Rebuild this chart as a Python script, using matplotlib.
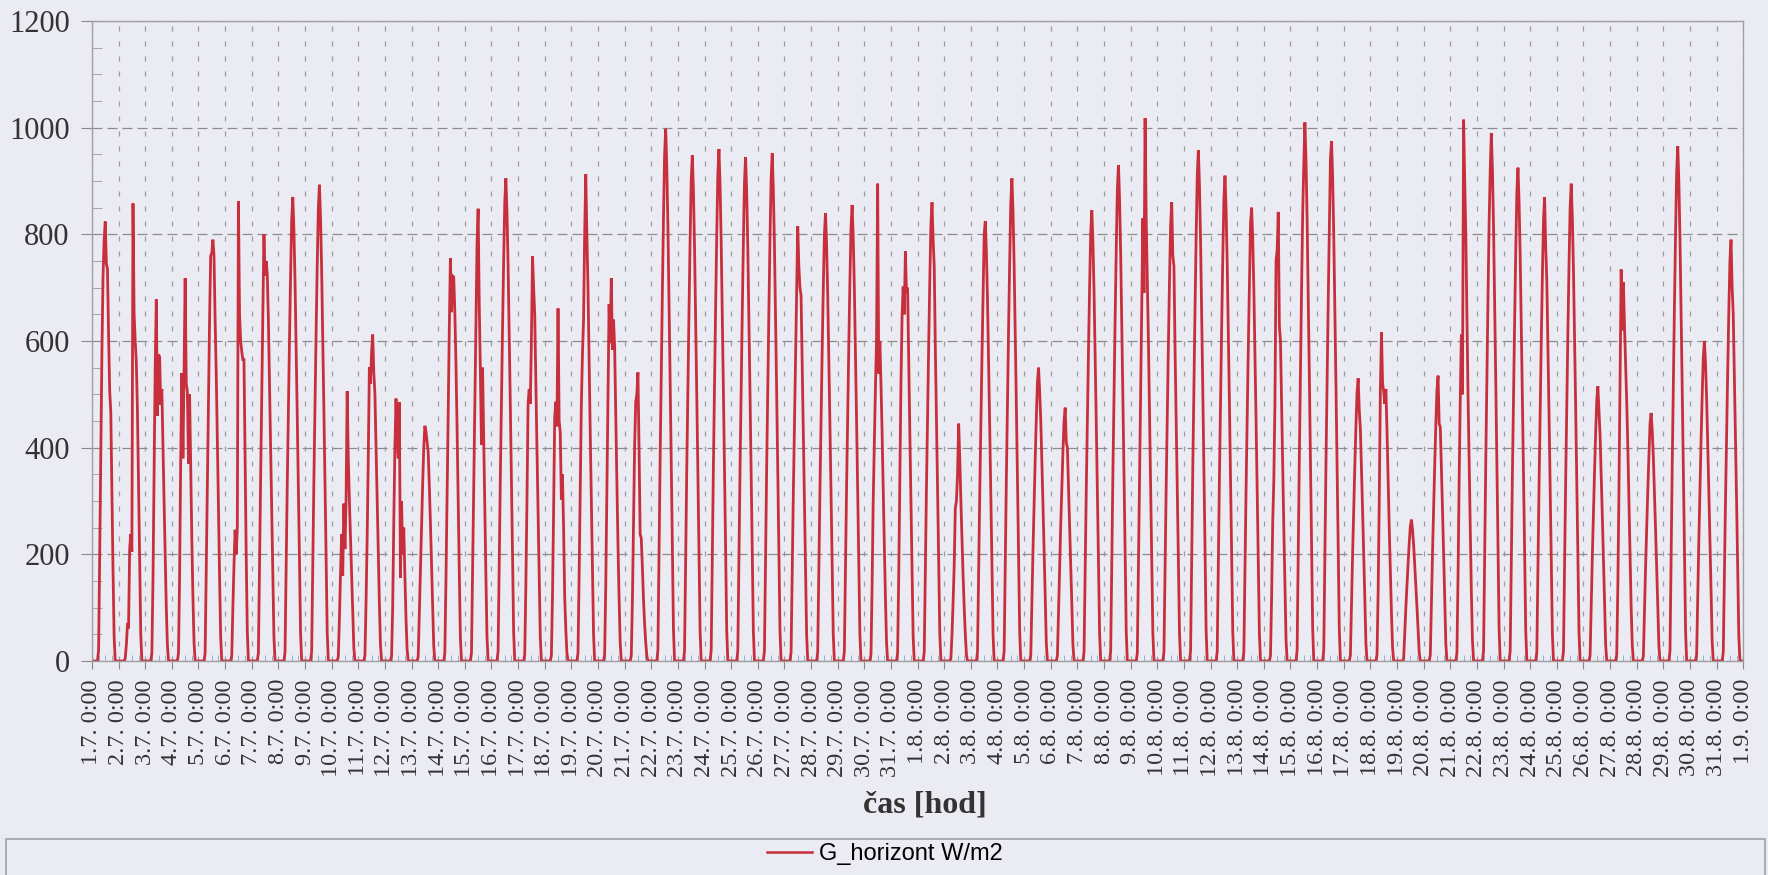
import numpy as np
import matplotlib
matplotlib.use("Agg")
import matplotlib.pyplot as plt
from matplotlib.patches import Rectangle
from matplotlib.lines import Line2D
import pandas as pd

# hourly G_horizont [W/m2], each row = one day, hours 5:00 .. 21:00 (rest of the day is 0)
first_hour = 5
july = [
    [0, 20, 200, 400, 580, 720, 790, 824, 745, 735, 610, 506, 466, 320, 170, 45, 0],
    [0, 5, 30, 67, 65, 210, 238, 205, 858, 650, 600, 560, 470, 330, 180, 50, 0],
    [0, 15, 150, 350, 550, 678, 460, 575, 570, 480, 510, 400, 300, 200, 100, 30, 0],
    [0, 15, 160, 380, 540, 380, 540, 718, 520, 505, 370, 500, 360, 230, 120, 35, 0],
    [0, 15, 170, 330, 490, 640, 760, 765, 790, 760, 640, 540, 420, 290, 160, 45, 0],
    [0, 10, 100, 180, 246, 200, 250, 862, 650, 600, 580, 565, 565, 380, 200, 55, 0],
    [0, 15, 170, 340, 500, 650, 800, 722, 750, 725, 640, 520, 400, 280, 160, 45, 0],
    [0, 17, 174, 331, 470, 600, 722, 827, 870, 809, 713, 592, 461, 331, 191, 52, 0],
    [0, 18, 179, 339, 482, 616, 741, 848, 893, 830, 732, 607, 473, 339, 196, 54, 0],
    [0, 8, 80, 164, 238, 160, 295, 210, 300, 506, 380, 300, 230, 160, 90, 25, 0],
    [0, 10, 110, 230, 380, 551, 520, 580, 612, 540, 500, 400, 300, 200, 110, 30, 0],
    [0, 10, 100, 260, 400, 492, 420, 380, 485, 156, 300, 200, 250, 160, 80, 22, 0],
    [0, 8, 90, 170, 250, 330, 400, 441, 430, 410, 392, 330, 260, 180, 100, 28, 0],
    [0, 15, 150, 300, 460, 620, 755, 654, 722, 720, 655, 560, 440, 300, 170, 45, 0],
    [0, 15, 170, 330, 480, 650, 780, 848, 669, 547, 405, 550, 420, 290, 160, 45, 0],
    [0, 18, 181, 344, 489, 624, 751, 860, 905, 842, 742, 615, 480, 344, 199, 54, 0],
    [0, 12, 140, 300, 482, 510, 482, 600, 759, 700, 650, 520, 400, 280, 150, 45, 0],
    [0, 10, 120, 280, 457, 486, 440, 661, 450, 429, 303, 350, 250, 120, 60, 15, 0],
    [0, 15, 160, 320, 480, 575, 640, 800, 913, 800, 700, 560, 430, 300, 170, 50, 0],
    [0, 12, 140, 320, 500, 669, 596, 718, 584, 640, 590, 460, 340, 220, 120, 35, 0],
    [0, 10, 110, 260, 400, 486, 500, 541, 400, 238, 230, 177, 116, 70, 35, 10, 0],
    [0, 20, 200, 379, 539, 689, 828, 948, 998, 928, 818, 679, 529, 379, 220, 60, 0],
    [0, 19, 190, 360, 512, 654, 787, 901, 948, 882, 777, 645, 502, 360, 209, 57, 0],
    [0, 19, 192, 365, 518, 662, 797, 912, 960, 893, 787, 653, 509, 365, 211, 58, 0],
    [0, 19, 189, 359, 510, 652, 784, 898, 945, 879, 775, 643, 501, 359, 208, 57, 0],
    [0, 19, 190, 362, 514, 657, 790, 904, 952, 885, 781, 647, 505, 362, 209, 57, 0],
    [0, 16, 165, 310, 440, 570, 690, 815, 740, 700, 685, 560, 435, 310, 180, 50, 0],
    [0, 17, 168, 319, 454, 580, 697, 798, 840, 781, 689, 571, 445, 319, 185, 50, 0],
    [0, 17, 171, 325, 462, 590, 710, 812, 855, 795, 701, 581, 453, 325, 188, 51, 0],
    [0, 12, 140, 300, 405, 510, 600, 895, 539, 600, 520, 430, 320, 220, 120, 35, 0],
    [0, 15, 160, 340, 520, 645, 702, 650, 768, 690, 700, 560, 430, 300, 170, 45, 0],
]
august = [
    [0, 17, 172, 327, 464, 593, 714, 817, 860, 790, 740, 585, 456, 327, 189, 52, 0],
    [0, 5, 50, 110, 180, 287, 300, 350, 445, 380, 300, 230, 160, 100, 50, 12, 0],
    [0, 17, 165, 314, 446, 569, 685, 800, 825, 767, 677, 561, 437, 314, 182, 50, 0],
    [0, 18, 181, 344, 489, 624, 751, 860, 905, 842, 742, 615, 480, 344, 199, 54, 0],
    [0, 11, 110, 209, 297, 380, 457, 523, 550, 505, 451, 374, 292, 209, 121, 33, 0],
    [0, 10, 95, 181, 257, 328, 394, 451, 475, 410, 400, 323, 252, 181, 105, 29, 0],
    [0, 17, 169, 321, 456, 583, 701, 803, 845, 786, 693, 575, 448, 321, 186, 51, 0],
    [0, 19, 186, 353, 502, 642, 772, 884, 930, 865, 763, 632, 493, 353, 205, 56, 0],
    [0, 15, 180, 360, 520, 690, 830, 690, 1018, 830, 720, 600, 460, 330, 190, 52, 0],
    [0, 17, 172, 327, 464, 593, 714, 817, 860, 760, 740, 585, 456, 327, 189, 52, 0],
    [0, 19, 192, 364, 517, 661, 795, 910, 958, 891, 786, 651, 508, 364, 211, 57, 0],
    [0, 18, 182, 346, 491, 628, 755, 865, 910, 846, 746, 619, 482, 346, 200, 55, 0],
    [0, 17, 170, 323, 459, 587, 706, 820, 850, 791, 697, 578, 451, 323, 187, 51, 0],
    [0, 10, 120, 260, 339, 482, 751, 770, 842, 628, 600, 480, 370, 250, 140, 40, 0],
    [0, 20, 202, 384, 545, 697, 838, 930, 1010, 939, 828, 687, 535, 384, 222, 61, 0],
    [0, 20, 195, 371, 527, 673, 809, 940, 975, 907, 800, 663, 517, 371, 215, 59, 0],
    [0, 11, 106, 201, 286, 366, 440, 504, 530, 470, 435, 360, 281, 201, 117, 32, 0],
    [0, 12, 130, 300, 506, 616, 520, 506, 482, 510, 430, 340, 250, 170, 90, 25, 0],
    [0, 5, 53, 101, 143, 183, 220, 252, 265, 246, 217, 180, 140, 101, 58, 16, 0],
    [0, 11, 107, 203, 289, 369, 444, 508, 535, 445, 439, 364, 284, 203, 118, 32, 0],
    [0, 15, 160, 340, 490, 612, 500, 1015, 900, 800, 650, 500, 370, 250, 130, 38, 0],
    [0, 20, 198, 376, 535, 683, 822, 920, 990, 921, 812, 673, 525, 376, 218, 59, 0],
    [0, 19, 185, 352, 500, 638, 768, 879, 925, 860, 759, 629, 490, 352, 204, 56, 0],
    [0, 17, 174, 331, 470, 600, 722, 827, 870, 775, 713, 592, 461, 331, 191, 52, 0],
    [0, 18, 179, 340, 483, 618, 743, 850, 895, 832, 734, 609, 474, 340, 197, 54, 0],
    [0, 10, 103, 196, 278, 355, 427, 489, 515, 470, 422, 350, 273, 196, 113, 31, 0],
    [0, 12, 140, 320, 530, 734, 620, 710, 628, 560, 486, 400, 300, 200, 100, 30, 0],
    [0, 9, 93, 177, 251, 321, 386, 445, 465, 432, 381, 316, 246, 177, 102, 28, 0],
    [0, 19, 193, 367, 521, 666, 801, 917, 965, 897, 791, 656, 511, 367, 212, 58, 0],
    [0, 12, 120, 228, 324, 414, 498, 570, 600, 558, 492, 408, 318, 228, 132, 36, 0],
    [0, 16, 158, 300, 427, 545, 656, 751, 790, 700, 650, 537, 419, 300, 174, 47, 0],
]

days = july + august
n_days = len(days)
dates = pd.date_range("2000-07-01", periods=n_days + 1, freq="D")
tick_labels = [f"{d.day}.{d.month}. 0:00" for d in dates]

# build the hourly series
hours = np.arange(n_days * 24 + 1)
g_horizont = np.zeros(len(hours))
for i, row in enumerate(days):
    start = i * 24 + first_hour
    g_horizont[start:start + len(row)] = row

bg = "#ebebf4"
fig = plt.figure(figsize=(17.68, 8.75), dpi=100, facecolor=bg)
ax = fig.add_axes([0.052, 0.2446, 0.934, 0.7314], facecolor=bg)

line_color = "#c62f3b"
ax.plot(hours, g_horizont, color=line_color, lw=2.0, solid_joinstyle="miter")

ax.set_xlim(0, n_days * 24)
ax.set_ylim(0, 1200)
ax.set_yticks(np.arange(0, 1201, 200))
ax.set_yticks(np.arange(0, 1201, 50), minor=True)
ax.set_xticks(np.arange(0, n_days * 24 + 1, 24))
ax.set_xticks(np.arange(0, n_days * 24 + 1, 6), minor=True)
ax.set_xticklabels(tick_labels, rotation=90, fontsize=17.5,
                   family="Liberation Serif", color="#333333")
for lbl in ax.get_yticklabels():
    lbl.set_family("Liberation Serif")
    lbl.set_fontsize(22)
    lbl.set_color("#333333")

ax.tick_params(axis="y", which="major", direction="out", length=8, color="#888888", pad=8)
ax.tick_params(axis="y", which="minor", direction="in", length=7, color="#999999")
ax.tick_params(axis="x", which="major", direction="out", length=6, color="#888888", pad=7)
ax.tick_params(axis="x", which="minor", direction="in", length=4, color="#8aa6c0")

ax.grid(axis="y", which="major", color="#8c8c8c", lw=0.9, linestyle=(0, (8, 4)))
ax.grid(axis="x", which="major", color="#9c9c9c", lw=0.9, linestyle=(0, (4, 8)))
ax.set_axisbelow(True)
for sp in ax.spines.values():
    sp.set_color("#a0a0a0")
    sp.set_linewidth(1)

fig.text(0.523, 0.080, "čas [hod]", ha="center", va="center", fontsize=23,
         fontweight="bold", family="Liberation Serif", color="#333333")

# legend box at the bottom
fig.patches.append(Rectangle((0.0034, -0.02), 0.9949, 0.0611, transform=fig.transFigure,
                             facecolor="none", edgecolor="#a0a0a8", lw=1.2))
handle = Line2D([], [], color=line_color, lw=1.8)
fig.legend([handle], ["G_horizont W/m2"], loc="center", bbox_to_anchor=(0.5006, 0.024),
           frameon=False, handlelength=1.9, handletextpad=0.3, borderpad=0,
           prop={"family": "Liberation Sans", "size": 17})

fig.savefig("out.png", dpi=100, facecolor=bg)
